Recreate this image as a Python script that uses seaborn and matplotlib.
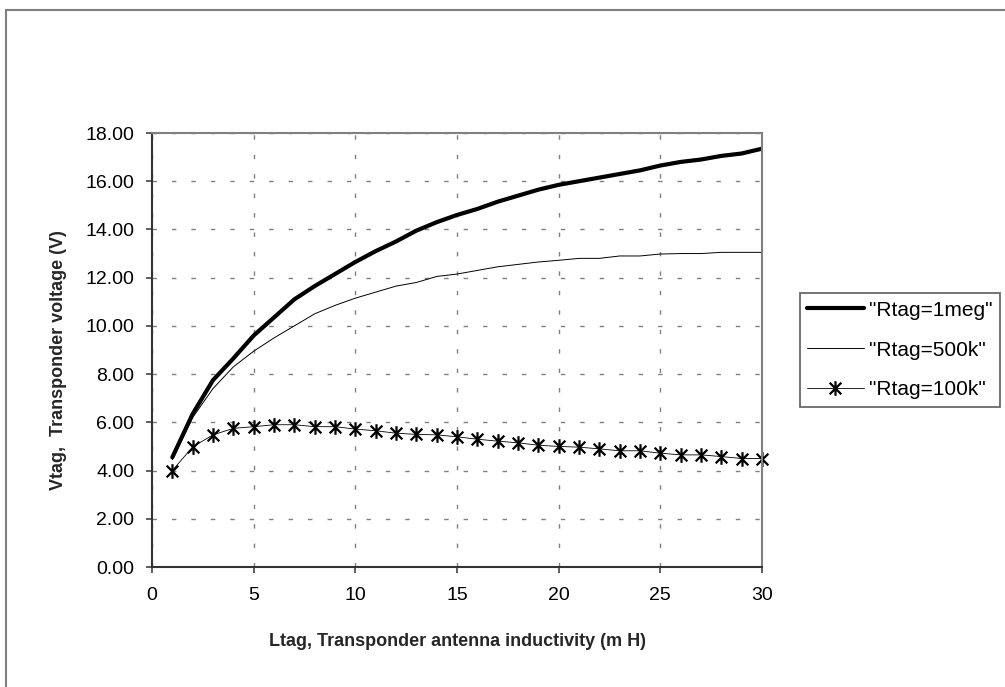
import numpy as np
import pandas as pd
import matplotlib.pyplot as plt
import seaborn as sns
from matplotlib.path import Path
from matplotlib.lines import Line2D

# inductivity in mH
ltag = list(range(1, 31))

v_1meg = [4.55, 6.35, 7.75, 8.65, 9.6, 10.35, 11.1, 11.65, 12.15, 12.65,
          13.1, 13.5, 13.95, 14.3, 14.6, 14.85, 15.15, 15.4, 15.65, 15.85,
          16.0, 16.15, 16.3, 16.45, 16.65, 16.8, 16.9, 17.05, 17.15, 17.35]
v_500k = [4.45, 6.2, 7.4, 8.3, 8.95, 9.5, 10.0, 10.5, 10.85, 11.15,
          11.4, 11.65, 11.8, 12.05, 12.15, 12.3, 12.45, 12.55, 12.65, 12.72,
          12.8, 12.8, 12.9, 12.9, 12.98, 13.0, 13.0, 13.05, 13.05, 13.05]
v_100k = [4.0, 4.98, 5.48, 5.75, 5.82, 5.9, 5.9, 5.82, 5.82, 5.72,
          5.65, 5.55, 5.5, 5.48, 5.4, 5.3, 5.22, 5.15, 5.05, 5.0,
          4.97, 4.9, 4.82, 4.82, 4.72, 4.65, 4.65, 4.58, 4.5, 4.5]

labels = ['"Rtag=1meg"', '"Rtag=500k"', '"Rtag=100k"']

df = pd.DataFrame({"L": ltag, "r1meg": v_1meg, "r500k": v_500k, "r100k": v_100k})

sns.set_theme(style="white")
plt.rcParams['font.family'] = ['Liberation Sans', 'DejaVu Sans']
plt.rcParams['text.color'] = 'black'

# excel style star marker: X with vertical bar
star = Path([(-1, -1), (1, 1), (-1, 1), (1, -1), (0, -1.25), (0, 1.25)],
            [Path.MOVETO, Path.LINETO, Path.MOVETO, Path.LINETO, Path.MOVETO, Path.LINETO])

fig = plt.figure(figsize=(10.05, 6.87), dpi=100)
ax = fig.add_axes([152 / 1005, 1 - 567 / 687, 610 / 1005, 434 / 687])

sns.lineplot(data=df, x="L", y="r1meg", ax=ax, color="black", linewidth=3.0, label=labels[0])
sns.lineplot(data=df, x="L", y="r500k", ax=ax, color="black", linewidth=0.7, label=labels[1])
sns.lineplot(data=df, x="L", y="r100k", ax=ax, color="black", linewidth=0.6, label=labels[2],
             marker=star, markersize=10.5, markeredgewidth=1.6,
             markeredgecolor="black", markerfacecolor="none", clip_on=False)

ax.set_xlim(0, 30)
ax.set_ylim(0, 18)
ax.set_xticks(np.arange(0, 31, 5))
ax.set_yticks(np.arange(0, 19, 2))
ax.set_yticklabels([f"{v:.2f}" for v in np.arange(0, 19, 2)])

ax.grid(True, color="#808080", linewidth=1.0, linestyle=(0, (3.2, 10.8)))
ax.tick_params(axis="both", direction="out", length=4.3, width=1.1, color="#333333",
               labelsize=14, labelcolor="black", left=True, bottom=True)
ax.tick_params(axis="y", pad=8.5)
ax.tick_params(axis="x", pad=10)

for side in ["left", "bottom"]:
    ax.spines[side].set_color("#333333")
    ax.spines[side].set_linewidth(1.5)
for side in ["top", "right"]:
    ax.spines[side].set_color("#808080")
    ax.spines[side].set_linewidth(1.5)

ax.set_xlabel("Ltag, Transponder antenna inductivity (m H)", fontsize=13, fontweight="bold")
ax.set_ylabel("Vtag,  Transponder voltage (V)", fontsize=13, fontweight="bold")
ax.xaxis.set_label_coords(0.5, -0.152)
ax.yaxis.set_label_coords(-0.139, 0.477)

leg = ax.legend(loc="center left", bbox_to_anchor=(800 / 1005, 1 - 350 / 687),
                bbox_transform=fig.transFigure, fontsize=15, frameon=True,
                fancybox=False, handlelength=2.7, handletextpad=0.25,
                labelspacing=1.0, borderpad=0.35, borderaxespad=0)
leg.get_frame().set_edgecolor("#333333")
leg.get_frame().set_linewidth(1.2)

# outer chart area border (only top and left are visible)
fig.add_artist(Line2D([6 / 1005, 6 / 1005], [0, 1 - 10 / 687], transform=fig.transFigure,
                      color="#808080", linewidth=1.5))
fig.add_artist(Line2D([6 / 1005, 1], [1 - 10 / 687, 1 - 10 / 687], transform=fig.transFigure,
                      color="#808080", linewidth=1.5))

fig.savefig("out.png", dpi=100)
